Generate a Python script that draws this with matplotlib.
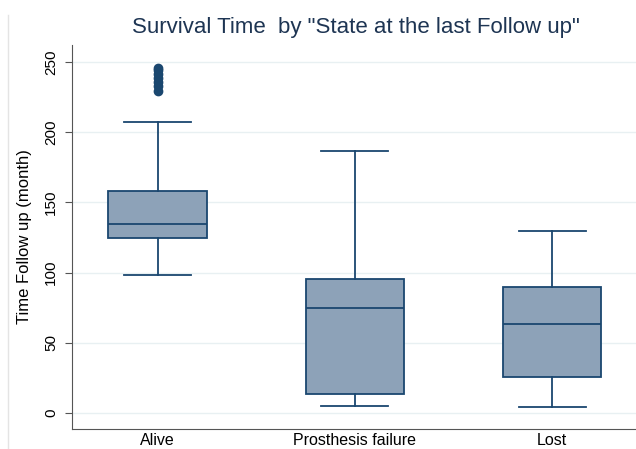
import matplotlib
matplotlib.use("Agg")
import matplotlib.pyplot as plt
from matplotlib.lines import Line2D

# categories and box statistics (months)
labels = ['Alive', 'Prosthesis failure', 'Lost']
whislo = [98.3, 5.0, 4.3]
q1 = [124.6, 13.5, 25.6]
med = [134.6, 74.8, 63.4]
q3 = [158, 95.4, 89.7]
whishi = [207.3, 186.6, 129.6]
fliers = [[229.5, 232.5, 235.5, 238.5, 241.5, 244, 245.7], [], []]

navy = '#1a476f'
fill = '#8da2b8'

plt.rcParams['font.family'] = ['Liberation Sans', 'DejaVu Sans']

stats = []
for i in range(len(labels)):
    stats.append({'label': labels[i], 'whislo': whislo[i], 'q1': q1[i],
                  'med': med[i], 'q3': q3[i], 'whishi': whishi[i],
                  'fliers': fliers[i]})

fig = plt.figure(figsize=(6.36, 4.49), dpi=100)
ax = fig.add_axes([72 / 636, 20 / 449, 564 / 636, 384 / 449])

ax.bxp(stats, positions=[1, 2, 3], widths=0.5, capwidths=0.34,
       patch_artist=True,
       boxprops=dict(facecolor=fill, edgecolor=navy, linewidth=1.3),
       medianprops=dict(color=navy, linewidth=1.3),
       whiskerprops=dict(color=navy, linewidth=1.3),
       capprops=dict(color=navy, linewidth=1.3),
       flierprops=dict(marker='o', markerfacecolor=navy, markeredgecolor=navy,
                       markersize=6))

ax.set_xlim(0.565, 3.426)
ax.set_ylim(-11.4, 262)
ax.set_yticks([0, 50, 100, 150, 200, 250])
ax.yaxis.grid(True, color='#e8f0f2', linewidth=1)
ax.set_axisbelow(True)
for s in ['top', 'right']:
    ax.spines[s].set_visible(False)
ax.spines['left'].set_color('#555555')
ax.spines['bottom'].set_color('#555555')
ax.tick_params(axis='y', labelsize=11, length=5, color='#555555',
               labelrotation=90, pad=5)
ax.tick_params(axis='x', labelsize=11.5, length=0, pad=3)
for t in ax.get_yticklabels():
    t.set_va('center')
ax.set_ylabel('Time Follow up (month)', fontsize=12, labelpad=9)
fig.text(0.56, 1 - 28 / 449, 'Survival Time  by "State at the last Follow up"',
         fontsize=16, color='#1e3553', ha='center', va='center')

# faint frame edge on the left of the screenshot
fig.add_artist(Line2D([8 / 636, 8 / 636], [0, 1 - 15 / 449],
                      transform=fig.transFigure, color='#e4e4e4', linewidth=1))

plt.savefig('out.png')
